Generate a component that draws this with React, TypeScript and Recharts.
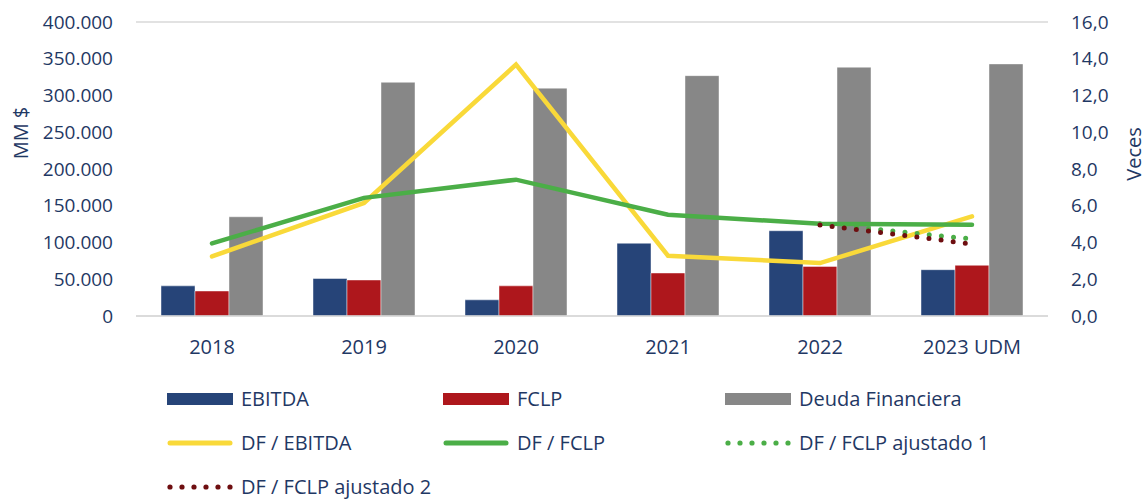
import React from 'react';
import { ComposedChart, Bar, Line, XAxis, YAxis, CartesianGrid, Label } from 'recharts';

const categories = ['2018', '2019', '2020', '2021', '2022', '2023 UDM'];
const ebitda = [41000, 51000, 22000, 99000, 116000, 63000];
const fclp = [34000, 49000, 41000, 58500, 67500, 69000];
const deuda = [135000, 318000, 310000, 327000, 338500, 343000];
const dfEbitda = [3.24, 6.15, 13.68, 3.28, 2.88, 5.42];
const dfFclp = [3.95, 6.43, 7.42, 5.51, 5.02, 4.97];
const dfFclpAj1 = [null, null, null, null, 5.02, 4.19];
const dfFclpAj2 = [null, null, null, null, 4.95, 3.92];
const leftTicks = [0, 50000, 100000, 150000, 200000, 250000, 300000, 350000, 400000];
const rightTicks = [0, 2, 4, 6, 8, 10, 12, 14, 16];

const NAVY = '#1F3864';
const FONT = '"Open Sans", "Noto Sans", sans-serif';
const COLORS = {
  ebitda: '#264478',
  fclp: '#AE171C',
  deuda: '#878787',
  dfEbitda: '#F9D939',
  dfFclp: '#4BAE47',
  aj1: '#4BAE47',
  aj2: '#6E0E10',
};

const data = categories.map((c, i) => ({
  name: c,
  ebitda: ebitda[i],
  fclp: fclp[i],
  deuda: deuda[i],
  dfEbitda: dfEbitda[i],
  dfFclp: dfFclp[i],
  aj1: dfFclpAj1[i],
  aj2: dfFclpAj2[i],
}));

const legendItems = [
  { label: 'EBITDA', kind: 'bar', color: COLORS.ebitda },
  { label: 'FCLP', kind: 'bar', color: COLORS.fclp },
  { label: 'Deuda Financiera', kind: 'bar', color: COLORS.deuda },
  { label: 'DF / EBITDA', kind: 'line', color: COLORS.dfEbitda },
  { label: 'DF / FCLP', kind: 'line', color: COLORS.dfFclp },
  { label: 'DF / FCLP ajustado 1', kind: 'dot', color: COLORS.aj1 },
  { label: 'DF / FCLP ajustado 2', kind: 'dot', color: COLORS.aj2 },
];
const legendColX = [167, 443, 725];
const legendRowY = [399, 443, 487];

const fmtLeft = (v: number) => (v === 0 ? '0' : v.toLocaleString('de-DE'));
const fmtRight = (v: number) => v.toFixed(1).replace('.', ',');

const tickStyle = { fill: NAVY, fontSize: 19, fontFamily: FONT };
const xTickStyle = { fill: NAVY, fontSize: 20, fontFamily: FONT };

function LegendIcon({ kind, color }: { kind: string; color: string }) {
  if (kind === 'bar') {
    return (
      <svg width={66} height={24}>
        <rect x={0} y={6} width={66} height={12} fill={color} />
      </svg>
    );
  }
  if (kind === 'line') {
    return (
      <svg width={66} height={24}>
        <line x1={3} y1={12} x2={63} y2={12} stroke={color} strokeWidth={5} strokeLinecap="round" />
      </svg>
    );
  }
  const dots = [0, 1, 2, 3, 4, 5];
  return (
    <svg width={66} height={24}>
      {dots.map((d) => (
        <circle key={d} cx={3 + d * 12} cy={12} r={2.6} fill={color} />
      ))}
    </svg>
  );
}

const YTitle = ({ text, x, y }: { text: string; x: number; y: number }) => (
  <text
    x={x}
    y={y}
    transform={`rotate(-90, ${x}, ${y})`}
    textAnchor="middle"
    dominantBaseline="central"
    fill={NAVY}
    fontSize={20}
    fontFamily={FONT}
  >
    {text}
  </text>
);

export default function App() {
  return (
    <div style={{ position: 'absolute', left: 0, top: 0, width: 1146, height: 500, background: '#fff', fontFamily: FONT }}>
      <ComposedChart
        width={1146}
        height={370}
        data={data}
        margin={{ top: 22, right: 0, bottom: 0, left: 0 }}
        barGap={0}
      >
        <CartesianGrid vertical={false} stroke="#D9D9D9" strokeWidth={1.5} />
        <XAxis
          dataKey="name"
          height={54}
          tickSize={0}
          tickMargin={24}
          axisLine={{ stroke: '#D9D9D9', strokeWidth: 1.5 }}
          tick={xTickStyle}
        />
        <YAxis
          yAxisId="left"
          orientation="left"
          width={136}
          domain={[0, 400000]}
          ticks={leftTicks}
          tickFormatter={fmtLeft}
          axisLine={false}
          tickSize={0}
          tickMargin={23}
          tick={tickStyle}
          interval={0}
        >
          <Label content={() => <YTitle text="MM $" x={20} y={133} />} />
        </YAxis>
        <YAxis
          yAxisId="right"
          orientation="right"
          width={98}
          domain={[0, 16]}
          ticks={rightTicks}
          tickFormatter={fmtRight}
          axisLine={false}
          tickSize={0}
          tickMargin={23}
          tick={tickStyle}
          interval={0}
        >
          <Label content={() => <YTitle text="Veces" x={1133} y={154} />} />
        </YAxis>
        <Bar yAxisId="left" dataKey="ebitda" barSize={34} fill={COLORS.ebitda} stroke="#ffffff" strokeOpacity={0.45} strokeWidth={1} isAnimationActive={false} />
        <Bar yAxisId="left" dataKey="fclp" barSize={34} fill={COLORS.fclp} stroke="#ffffff" strokeOpacity={0.45} strokeWidth={1} isAnimationActive={false} />
        <Bar yAxisId="left" dataKey="deuda" barSize={34} fill={COLORS.deuda} stroke="#ffffff" strokeOpacity={0.45} strokeWidth={1} isAnimationActive={false} />
        <Line yAxisId="right" dataKey="dfEbitda" stroke={COLORS.dfEbitda} strokeWidth={4.5} dot={false} activeDot={false} strokeLinecap="round" isAnimationActive={false} />
        <Line yAxisId="right" dataKey="dfFclp" stroke={COLORS.dfFclp} strokeWidth={4.5} dot={false} activeDot={false} strokeLinecap="round" isAnimationActive={false} />
        <Line yAxisId="right" dataKey="aj1" stroke={COLORS.aj1} strokeWidth={5} strokeDasharray="0 12.2" strokeLinecap="round" dot={false} activeDot={false} connectNulls={false} isAnimationActive={false} />
        <Line yAxisId="right" dataKey="aj2" stroke={COLORS.aj2} strokeWidth={5} strokeDasharray="0 12.2" strokeLinecap="round" dot={false} activeDot={false} connectNulls={false} isAnimationActive={false} />
      </ComposedChart>
      {legendItems.map((item, i) => {
        const col = i % 3;
        const row = Math.floor(i / 3);
        return (
          <div
            key={item.label}
            style={{
              position: 'absolute',
              left: legendColX[col],
              top: legendRowY[row] - 12,
              height: 24,
              display: 'flex',
              alignItems: 'center',
              whiteSpace: 'nowrap',
            }}
          >
            <LegendIcon kind={item.kind} color={item.color} />
            <span style={{ marginLeft: 8, fontSize: 20, color: NAVY, lineHeight: '24px' }}>{item.label}</span>
          </div>
        );
      })}
    </div>
  );
}
